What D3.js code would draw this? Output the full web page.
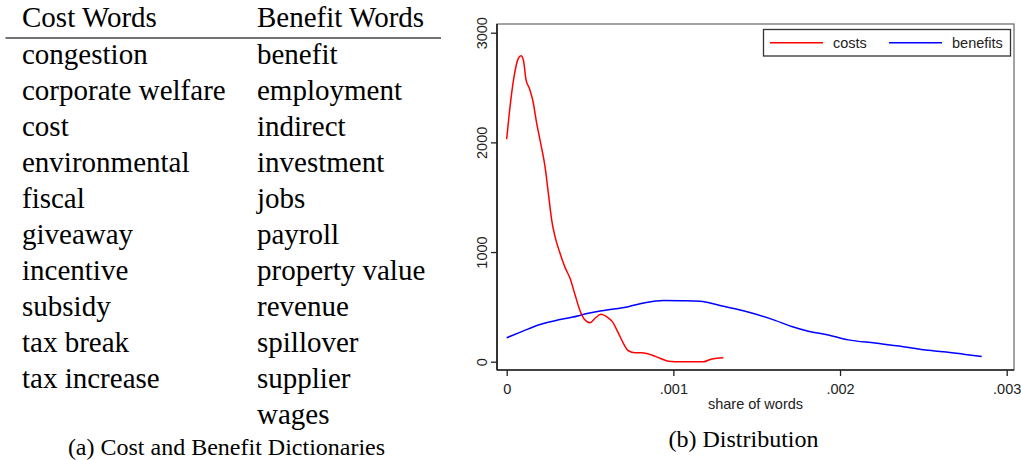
<!DOCTYPE html>
<html>
<head>
<meta charset="utf-8">
<script src="https://cdn.jsdelivr.net/npm/d3@7"></script>
<style>
  html, body { margin: 0; padding: 0; background: #fff; }
  svg { display: block; }
</style>
</head>
<body>
<svg id="chart" width="1021" height="460"></svg>
<script>
// ---------- data ----------
const tableHeaders = ["Cost Words", "Benefit Words"];
const costWords = ["congestion", "corporate welfare", "cost", "environmental", "fiscal",
  "giveaway", "incentive", "subsidy", "tax break", "tax increase"];
const benefitWords = ["benefit", "employment", "indirect", "investment", "jobs", "payroll",
  "property value", "revenue", "spillover", "supplier", "wages"];
const captionA = "(a) Cost and Benefit Dictionaries";
const captionB = "(b) Distribution";

const seriesNames = ["costs", "benefits"];
const costX = [0, .00002, .000044, .00007, .000086, .0001, .000116, .000136, .000156, .00018,
  .000204, .00023, .00025, .00027, .00029, .00032, .00035, .00038, .00041, .00044, .000466,
  .0005, .00053, .000566, .0006, .000634, .000666, .0007, .00073, .00077, .00081, .00087,
  .00092, .00097, .00105, .00118, .00123, .0013];
const costY = [2030, 2325, 2599, 2766, 2790, 2751, 2569, 2493, 2386, 2174, 1991, 1778, 1535,
  1292, 1140, 988, 860, 760, 610, 465, 387, 356, 396, 432, 410, 365, 274, 168, 100, 82, 82,
  61, 31, 5, 0, 0, 25, 37];
const benefitX = [0, .00009, .00019, .00029, .00039, .00049, .00057, .00073, .00083, .00094,
  .00105, .00116, .00128, .00137, .00147, .00161, .00171, .00181, .00193, .00205, .00221,
  .00238, .0025, .00262, .00274, .00285];
const benefitY = [219, 274, 335, 374, 405, 441, 465, 502, 538, 558, 556, 552, 512, 483, 444,
  377, 321, 278, 244, 199, 170, 137, 109, 91, 69, 48];

const xTicks = [0, .001, .002, .003];
const xTickLabels = ["0", ".001", ".002", ".003"];
const yTicks = [0, 1000, 2000, 3000];
const yTickLabels = ["0", "1000", "2000", "3000"];
const xTitle = "share of words";

// ---------- drawing ----------
const svg = d3.select("#chart");
svg.append("rect").attr("width", 1021).attr("height", 460).attr("fill", "#fff");

// Left panel: table
const serif = "'Liberation Serif', 'Times New Roman', serif";
const tbl = svg.append("g").attr("font-family", serif).attr("fill", "#000");
const colX = [22, 257];
const tFont = 29;
tbl.selectAll("text.hdr").data(tableHeaders).enter().append("text")
  .attr("class", "hdr").attr("x", (d, i) => colX[i]).attr("y", 27)
  .attr("font-size", tFont).text(d => d);
tbl.append("line").attr("x1", 5.5).attr("x2", 441).attr("y1", 38).attr("y2", 38)
  .attr("stroke", "#444").attr("stroke-width", 1.4);
const rowY = i => 63.5 + i * 36;
tbl.selectAll("text.cw").data(costWords).enter().append("text")
  .attr("class", "cw").attr("x", colX[0]).attr("y", (d, i) => rowY(i))
  .attr("font-size", tFont).text(d => d);
tbl.selectAll("text.bw").data(benefitWords).enter().append("text")
  .attr("class", "bw").attr("x", colX[1]).attr("y", (d, i) => rowY(i))
  .attr("font-size", tFont).text(d => d);
svg.append("text").attr("x", 226.5).attr("y", 455).attr("text-anchor", "middle")
  .attr("font-family", serif).attr("font-size", 24).attr("fill", "#000").text(captionA);

// Right panel: chart
const sans = "'Liberation Sans', Arial, sans-serif";
const frame = { left: 497, right: 1014, top: 24, bottom: 370 };
const x = d3.scaleLinear().domain([0, 0.003]).range([506.7, 1006.7]);
const y = d3.scaleLinear().domain([0, 3000]).range([361.7, 32.7]);

const g = svg.append("g").attr("font-family", sans);

// plot frame
g.append("rect").attr("x", frame.left).attr("y", frame.top)
  .attr("width", frame.right - frame.left).attr("height", frame.bottom - frame.top)
  .attr("fill", "none").attr("stroke", "#666").attr("stroke-width", 1.2);

// axes
const yAxis = d3.axisLeft(y).tickValues(yTicks).tickSize(6)
  .tickFormat((d, i) => yTickLabels[i]);
const ya = g.append("g").attr("transform", `translate(${frame.left},0)`).call(yAxis);
ya.select(".domain").attr("d", `M0,${frame.top}V${frame.bottom}`)
  .attr("stroke", "#222").attr("stroke-width", 1.7);
ya.selectAll(".tick line").attr("stroke", "#222").attr("stroke-width", 1.3);
ya.selectAll(".tick text")
  .attr("x", null).attr("dy", null)
  .attr("transform", "translate(-10.5,0) rotate(-90)")
  .attr("text-anchor", "middle").attr("font-size", 14.5).attr("fill", "#222")
  .attr("font-family", sans);

const xAxis = d3.axisBottom(x).tickValues(xTicks).tickSize(6)
  .tickFormat((d, i) => xTickLabels[i]);
const xa = g.append("g").attr("transform", `translate(0,${frame.bottom})`).call(xAxis);
xa.select(".domain").attr("d", `M${frame.left},0H${frame.right}`)
  .attr("stroke", "#222").attr("stroke-width", 1.7);
xa.selectAll(".tick line").attr("stroke", "#222").attr("stroke-width", 1.3);
xa.selectAll(".tick text").attr("y", 23.5).attr("dy", null)
  .attr("font-size", 14.5).attr("fill", "#222").attr("font-family", sans);

g.append("text").attr("x", (frame.left + frame.right) / 2).attr("y", 408.5)
  .attr("text-anchor", "middle").attr("font-size", 14.5).attr("fill", "#222").text(xTitle);

// curves
const line = d3.line().x(d => x(d[0])).y(d => y(d[1])).curve(d3.curveMonotoneX);
const costData = costX.map((v, i) => [v, costY[i]]);
const benefitData = benefitX.map((v, i) => [v, benefitY[i]]);
const colors = ["#ff0000", "#0000ff"];
g.append("path").datum(benefitData).attr("d", line).attr("fill", "none")
  .attr("stroke", colors[1]).attr("stroke-width", 1.5);
g.append("path").datum(costData).attr("d", line).attr("fill", "none")
  .attr("stroke", colors[0]).attr("stroke-width", 1.5);

// legend
const lg = g.append("g");
lg.append("rect").attr("x", 763.5).attr("y", 29.5).attr("width", 247).attr("height", 26.5)
  .attr("fill", "#fff").attr("stroke", "#333").attr("stroke-width", 1.3);
const legX = [770, 889];
seriesNames.forEach((name, i) => {
  lg.append("line").attr("x1", legX[i]).attr("x2", legX[i] + 53)
    .attr("y1", 42.7).attr("y2", 42.7).attr("stroke", colors[i]).attr("stroke-width", 1.5);
  lg.append("text").attr("x", legX[i] + 63).attr("y", 48.3)
    .attr("font-size", 14.5).attr("fill", "#222").text(name);
});

svg.append("text").attr("x", 743.5).attr("y", 447).attr("text-anchor", "middle")
  .attr("font-family", serif).attr("font-size", 24).attr("fill", "#000").text(captionB);
</script>
</body>
</html>
